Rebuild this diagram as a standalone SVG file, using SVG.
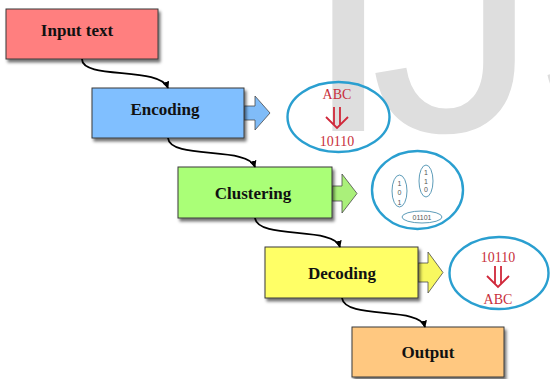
<svg xmlns="http://www.w3.org/2000/svg" width="550" height="379" viewBox="0 0 550 379">
<defs>
<filter id="sh" x="-10%" y="-20%" width="130%" height="160%">
<feDropShadow dx="2" dy="3" stdDeviation="1.6" flood-color="#000" flood-opacity="0.55"/>
</filter>
<marker id="ah" viewBox="0 0 10 10" refX="9" refY="5" markerWidth="7" markerHeight="7" orient="auto" markerUnits="userSpaceOnUse">
<path d="M0,0 L10,5 L0,10 z" fill="#000"/>
</marker>
</defs>
<style>
.box{stroke:#3a3a3a;stroke-width:1;filter:url(#sh)}
.lbl{font-family:"Liberation Serif","Times New Roman",serif;font-weight:bold;font-size:17px;fill:#111;text-anchor:middle}
.conn{fill:none;stroke:#000;stroke-width:1.8;marker-end:url(#ah)}
.bigell{fill:none;stroke:#2a9fd0;stroke-width:2.4}
.smell{fill:none;stroke:#4a90b0;stroke-width:0.9}
.red{font-family:"Liberation Serif","Times New Roman",serif;font-size:14px;fill:#c8303c;text-anchor:middle}
.dig{font-family:"Liberation Sans",Arial,sans-serif;font-size:7px;fill:#555;text-anchor:middle}
.dbl{fill:none;stroke:#d0283a;stroke-width:1.8}
.barr{stroke:#4a4a4a;stroke-width:0.8}
</style>
<rect width="550" height="379" fill="#fff"/>
<text x="301 370 532" y="131" font-family="Liberation Sans, Arial, sans-serif" font-size="340" fill="#dedede">IJS</text>

<g id="input">
<rect class="box" x="6" y="9" width="152" height="50" fill="#ff7f7f"/>
<text class="lbl" x="77" y="36">Input text</text>
</g>

<g id="encoding">
<path class="barr" d="M244,106 H255 V96 L270,113 L255,130 V120 H244 z" fill="#80bcf8"/>
<rect class="box" x="92" y="88" width="152" height="50" fill="#80bfff"/>
<text class="lbl" x="165" y="115">Encoding</text>
</g>

<g id="encode-bubble">
<ellipse class="bigell" cx="338.5" cy="117" rx="51" ry="35"/>
<text class="red" x="337" y="99">ABC</text>
<path class="dbl" d="M334,107 V125 M340,107 V125 M326,117 L337,128 L348,117"/>
<text class="red" x="337" y="146">10110</text>
</g>

<g id="clustering">
<path class="barr" d="M332,186 H342 V174 L357,193.5 L342,213 V201 H332 z" fill="#aaf07a"/>
<rect class="box" x="178" y="167" width="154" height="51" fill="#aaff77"/>
<text class="lbl" x="253" y="199">Clustering</text>
</g>

<g id="cluster-bubble">
<ellipse class="bigell" cx="417.5" cy="190" rx="45.5" ry="39"/>
<ellipse class="smell" cx="399.5" cy="191" rx="7.5" ry="16"/>
<text class="dig" x="399.5" y="185.5">1</text>
<text class="dig" x="399.5" y="195">0</text>
<text class="dig" x="399.5" y="204.5">1</text>
<ellipse class="smell" cx="426" cy="181" rx="7" ry="16"/>
<text class="dig" x="426" y="174.5">1</text>
<text class="dig" x="426" y="183.5">1</text>
<text class="dig" x="426" y="192">0</text>
<ellipse class="smell" cx="422" cy="217" rx="20" ry="6"/>
<text class="dig" x="422" y="219.5" font-size="6.5">01101</text>
</g>

<g id="decoding">
<path class="barr" d="M418,263 H428 V252 L443,272.5 L428,293 V282 H418 z" fill="#f8f860"/>
<rect class="box" x="265" y="247" width="153" height="51" fill="#ffff66"/>
<text class="lbl" x="342" y="279">Decoding</text>
</g>

<g id="decode-bubble">
<ellipse class="bigell" cx="499" cy="273" rx="49.5" ry="36"/>
<text class="red" x="498" y="262">10110</text>
<path class="dbl" d="M495,266 V284 M501,266 V284 M487,276 L498,287 L509,276"/>
<text class="red" x="498" y="304">ABC</text>
</g>

<g id="output">
<rect class="box" x="352" y="327" width="152" height="50" fill="#ffc880"/>
<text class="lbl" x="428" y="358">Output</text>
</g>

<g id="connectors">
<path class="conn" d="M82,59 C82,80 160,66 168,88"/>
<path class="conn" d="M168,138 C170,160 248,146 255,167"/>
<path class="conn" d="M255,218 C258,240 334,226 340,247"/>
<path class="conn" d="M342,298 C345,320 420,306 425,327"/>
</g>
</svg>
